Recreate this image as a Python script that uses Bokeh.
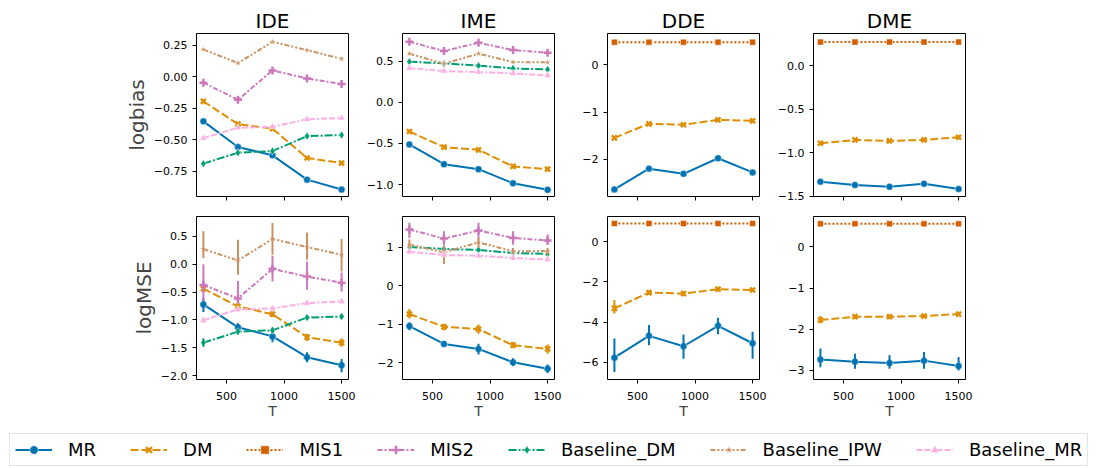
from bokeh.plotting import figure
from bokeh.layouts import column, row
from bokeh.models import (Range1d, FixedTicker, CustomJSTickFormatter, Legend,
                          LegendItem, ColumnDataSource, CustomLabelingPolicy)
from bokeh.embed import file_html
from bokeh.resources import INLINE

# ---------------- data ----------------
T = [300, 600, 900, 1200, 1500]
methods = ["MR", "DM", "MIS1", "MIS2", "Baseline_DM", "Baseline_IPW", "Baseline_MR"]
panel_titles = ["IDE", "IME", "DDE", "DME"]
row_labels = ["logbias", "logMSE"]

ide_logbias = {
    "MR": [-0.353, -0.557, -0.623, -0.816, -0.895],
    "DM": [-0.194, -0.375, -0.411, -0.644, -0.684],
    "MIS2": [-0.046, -0.181, 0.052, -0.012, -0.057],
    "Baseline_DM": [-0.689, -0.602, -0.589, -0.470, -0.462],
    "Baseline_IPW": [0.218, 0.110, 0.279, 0.213, 0.144],
    "Baseline_MR": [-0.486, -0.404, -0.396, -0.337, -0.327],
}
ime_logbias = {
    "MR": [-0.512, -0.752, -0.813, -0.984, -1.065],
    "DM": [-0.354, -0.545, -0.577, -0.780, -0.813],
    "MIS2": [0.740, 0.626, 0.728, 0.638, 0.606],
    "Baseline_DM": [0.496, 0.476, 0.448, 0.415, 0.402],
    "Baseline_IPW": [0.594, 0.472, 0.594, 0.492, 0.488],
    "Baseline_MR": [0.418, 0.382, 0.370, 0.354, 0.329],
}
dde_logbias = {
    "MR": [-2.64, -2.20, -2.31, -1.98, -2.28],
    "DM": [-1.547, -1.25, -1.27, -1.165, -1.186],
    "MIS1": [0.48, 0.48, 0.48, 0.48, 0.48],
}
dme_logbias = {
    "MR": [-1.332, -1.370, -1.390, -1.355, -1.416],
    "DM": [-0.889, -0.851, -0.862, -0.851, -0.820],
    "MIS1": [0.275, 0.275, 0.275, 0.275, 0.275],
}

ide_logmse = {
    "MR": [-0.722, -1.133, -1.296, -1.670, -1.815],
    "DM": [-0.440, -0.759, -0.898, -1.308, -1.410],
    "MIS2": [-0.373, -0.614, -0.084, -0.223, -0.332],
    "Baseline_DM": [-1.410, -1.210, -1.187, -0.958, -0.940],
    "Baseline_IPW": [0.272, 0.066, 0.453, 0.308, 0.169],
    "Baseline_MR": [-1.006, -0.813, -0.795, -0.699, -0.668],
}
ide_logmse_lo = {
    "MR": [-0.86, -1.20, -1.40, -1.76, -1.94],
    "DM": [-0.50, -0.80, -0.95, -1.38, -1.48],
    "MIS2": [-0.65, -0.71, -0.31, -0.46, -0.49],
    "Baseline_DM": [-1.48, -1.26, -1.23, -1.00, -0.98],
    "Baseline_IPW": [0.11, -0.19, 0.17, 0.08, -0.13],
    "Baseline_MR": [-1.05, -0.85, -0.83, -0.73, -0.70],
}
ide_logmse_hi = {
    "MR": [-0.61, -1.06, -1.20, -1.58, -1.70],
    "DM": [-0.38, -0.72, -0.85, -1.25, -1.33],
    "MIS2": [0.00, -0.30, 0.15, 0.05, -0.15],
    "Baseline_DM": [-1.33, -1.16, -1.14, -0.92, -0.90],
    "Baseline_IPW": [0.59, 0.44, 0.74, 0.57, 0.45],
    "Baseline_MR": [-0.96, -0.78, -0.76, -0.67, -0.64],
}
ime_logmse = {
    "MR": [-1.044, -1.506, -1.637, -1.984, -2.149],
    "DM": [-0.731, -1.062, -1.123, -1.540, -1.637],
    "MIS2": [1.462, 1.227, 1.436, 1.245, 1.175],
    "Baseline_DM": [1.010, 0.958, 0.932, 0.854, 0.828],
    "Baseline_IPW": [1.070, 0.870, 1.130, 0.896, 0.905],
    "Baseline_MR": [0.888, 0.800, 0.783, 0.723, 0.687],
}
ime_logmse_lo = {
    "MR": [-1.15, -1.58, -1.78, -2.08, -2.26],
    "DM": [-0.85, -1.15, -1.24, -1.62, -1.76],
    "MIS2": [1.245, 1.03, 1.20, 1.07, 1.07],
    "Baseline_DM": [0.96, 0.91, 0.89, 0.81, 0.79],
    "Baseline_IPW": [0.90, 0.57, 0.98, 0.81, 0.81],
    "Baseline_MR": [0.84, 0.75, 0.74, 0.68, 0.65],
}
ime_logmse_hi = {
    "MR": [-0.95, -1.43, -1.50, -1.88, -2.04],
    "DM": [-0.60, -0.98, -1.00, -1.46, -1.52],
    "MIS2": [1.64, 1.42, 1.64, 1.42, 1.33],
    "Baseline_DM": [1.05, 1.00, 0.97, 0.89, 0.86],
    "Baseline_IPW": [1.20, 1.03, 1.24, 0.98, 0.98],
    "Baseline_MR": [0.93, 0.85, 0.83, 0.77, 0.73],
}
dde_logmse = {
    "MR": [-5.78, -4.69, -5.21, -4.19, -5.06],
    "DM": [-3.32, -2.53, -2.58, -2.36, -2.40],
    "MIS1": [0.92, 0.92, 0.92, 0.92, 0.92],
}
dde_logmse_lo = {
    "MR": [-6.50, -5.16, -5.83, -4.61, -5.83],
    "DM": [-3.57, -2.65, -2.70, -2.46, -2.50],
    "MIS1": [0.90, 0.90, 0.90, 0.90, 0.90],
}
dde_logmse_hi = {
    "MR": [-4.82, -4.15, -4.62, -3.79, -4.49],
    "DM": [-2.90, -2.41, -2.46, -2.26, -2.30],
    "MIS1": [0.94, 0.94, 0.94, 0.94, 0.94],
}
dme_logmse = {
    "MR": [-2.740, -2.795, -2.830, -2.770, -2.900],
    "DM": [-1.780, -1.700, -1.700, -1.684, -1.635],
    "MIS1": [0.564, 0.564, 0.564, 0.564, 0.564],
}
dme_logmse_lo = {
    "MR": [-2.93, -2.97, -2.97, -2.97, -3.01],
    "DM": [-1.86, -1.75, -1.75, -1.73, -1.68],
    "MIS1": [0.55, 0.55, 0.55, 0.55, 0.55],
}
dme_logmse_hi = {
    "MR": [-2.475, -2.60, -2.64, -2.56, -2.68],
    "DM": [-1.68, -1.65, -1.65, -1.64, -1.59],
    "MIS1": [0.58, 0.58, 0.58, 0.58, 0.58],
}

# y ticks per panel
yticks_bias = [[0.25, 0.0, -0.25, -0.5, -0.75], [0.5, 0.0, -0.5, -1.0], [0, -1, -2], [0.0, -0.5, -1.0, -1.5]]
ydec_bias = [2, 1, 0, 1]
yticks_mse = [[0.5, 0.0, -0.5, -1.0, -1.5, -2.0], [1, 0, -1, -2], [0, -2, -4, -6], [0, -1, -2, -3]]
ydec_mse = [1, 0, 0, 0]
xticks = [500, 1000, 1500]

# ---------------- styles ----------------
colors = {"MR": "#0173b2", "DM": "#de8f05", "MIS1": "#d55e00", "MIS2": "#cc78bc",
          "Baseline_DM": "#029e73", "Baseline_IPW": "#ca9161", "Baseline_MR": "#fbafe4"}
dashes = {"MR": "solid", "DM": "8 3", "MIS1": "2 2", "MIS2": "5 2 2 2",
          "Baseline_DM": "8 2 2 2", "Baseline_IPW": "5 2 2 2 2 2", "Baseline_MR": "6 2 6 2 2 2"}
markers = {"MR": ("circle", 7), "DM": ("x", 7), "MIS1": ("square", 6), "MIS2": ("cross", 8),
           "Baseline_DM": ("diamond", 8), "Baseline_IPW": ("star", 7), "Baseline_MR": ("triangle", 7)}
FONT = "DejaVu Sans"
FW, FH = 152, 163


def add_marker(p, m, src):
    mk, sz = markers[m]
    if mk in ("x", "cross"):
        return p.scatter("x", "y", source=src, marker=mk, size=sz, line_color=colors[m], line_width=2.5)
    return p.scatter("x", "y", source=src, marker=mk, size=sz, fill_color=colors[m],
                     line_color="white", line_width=0.5)


def make_panel(data, lo, hi, yr, yt, dec, title, ylabel, bottom, ml, mr, mt, mb):
    kw = dict(frame_width=FW, frame_height=FH, x_range=Range1d(240, 1560),
              y_range=Range1d(*yr), output_backend="svg", toolbar_location=None,
              min_border_left=ml, min_border_right=mr, min_border_top=mt, min_border_bottom=mb)
    if title is None:
        p = figure(title=None, **kw)
    else:
        p = figure(title=title, **kw)
        p.title.align = "center"
        p.title.text_font = FONT
        p.title.text_font_size = "20px"
        p.title.text_font_style = "normal"
        p.title.text_color = "black"
        p.title.standoff = 2
    p.grid.visible = False
    p.outline_line_color = "black"
    p.outline_line_alpha = 1
    p.outline_line_width = 1
    p.background_fill_color = "white"
    p.border_fill_color = "white"
    for ax in (p.xaxis[0], p.yaxis[0]):
        ax.axis_line_color = None
        ax.major_tick_out = 4
        ax.major_tick_in = 0
        ax.minor_tick_out = 0
        ax.minor_tick_in = 0
        ax.major_tick_line_color = "black"
        ax.major_label_text_font = FONT
        ax.major_label_text_font_size = "11px"
        ax.major_label_text_color = "black"
    p.xaxis.ticker = FixedTicker(ticks=xticks)
    p.yaxis.ticker = FixedTicker(ticks=yt)
    p.yaxis.major_label_standoff = 5
    p.yaxis.formatter = CustomJSTickFormatter(
        args=dict(d=dec),
        code="const s = Math.abs(tick).toFixed(d); return (tick < -1e-9 ? '\u2212' : '') + s;")
    if bottom:
        p.xaxis.major_label_standoff = 8
        p.xaxis.axis_label = "T"
        p.xaxis.axis_label_text_font = FONT
        p.xaxis.axis_label_text_font_size = "14px"
        p.xaxis.axis_label_text_font_style = "normal"
        p.xaxis.axis_label_standoff = 0
    else:
        # shared x axis: tick marks only, no labels
        p.xaxis.major_label_policy = CustomLabelingPolicy(
            code="for (const i of indices) indices.unset(i); return indices;")
        p.xaxis.major_label_standoff = 0
    if ylabel:
        p.yaxis.axis_label = ylabel
        p.yaxis.axis_label_text_font = FONT
        p.yaxis.axis_label_text_font_size = "20px"
        p.yaxis.axis_label_text_font_style = "normal"
        p.yaxis.axis_label_standoff = 2
    for m in methods:
        if m not in data:
            continue
        src = ColumnDataSource(dict(x=T, y=data[m]))
        p.line("x", "y", source=src, line_color=colors[m], line_width=2, line_dash=dashes[m])
        add_marker(p, m, src)
        if lo is not None:
            p.segment(x0=T, y0=lo[m], x1=T, y1=hi[m], line_color=colors[m], line_width=2)
    return p


borders_lr = [(196, 8), (46, 8), (45, 8), (46, 10)]
row1_data = [ide_logbias, ime_logbias, dde_logbias, dme_logbias]
row1_ranges = [(-0.95, 0.345), (-1.146, 0.84), (-2.79, 0.663), (-1.502, 0.374)]
row2_data = [(ide_logmse, ide_logmse_lo, ide_logmse_hi), (ime_logmse, ime_logmse_lo, ime_logmse_hi),
             (dde_logmse, dde_logmse_lo, dde_logmse_hi), (dme_logmse, dme_logmse_lo, dme_logmse_hi)]
row2_ranges = [(-2.07, 0.856), (-2.43, 1.80), (-6.87, 1.27), (-3.23, 0.743)]

r1 = []
r2 = []
for i in range(4):
    ml, mr = borders_lr[i]
    r1.append(make_panel(row1_data[i], None, None, row1_ranges[i], yticks_bias[i], ydec_bias[i],
                         panel_titles[i], row_labels[0] if i == 0 else None, False, ml, mr, 33, 8))
    d, lo, hi = row2_data[i]
    r2.append(make_panel(d, lo, hi, row2_ranges[i], yticks_mse[i], ydec_mse[i],
                         None, row_labels[1] if i == 0 else None, True, ml, mr, 5, 48))

# ---------------- legend ----------------
lg = figure(frame_width=1096, frame_height=40, x_range=Range1d(0, 1), y_range=Range1d(0, 1),
            x_axis_type=None, y_axis_type=None, toolbar_location=None, output_backend="svg",
            min_border=0, title=None)
lg.outline_line_color = None
lg.grid.visible = False
items = []
for m in methods:
    src = ColumnDataSource(dict(x=[-10], y=[-10]))
    rl = lg.line("x", "y", source=src, line_color=colors[m], line_width=2, line_dash=dashes[m])
    rm = add_marker(lg, m, src)
    items.append(LegendItem(label=m, renderers=[rl, rm]))
leg = Legend(items=items, orientation="horizontal", location=(9, 1), glyph_width=37, glyph_height=21,
             label_standoff=16, spacing=34, padding=5, margin=0,
             label_text_font=FONT, label_text_font_size="18px", label_text_color="black",
             border_line_color="#cccccc", border_line_width=1, background_fill_color="white",
             background_fill_alpha=1)
lg.add_layout(leg, "center")

layout = column(row(*r1), row(*r2), lg)
open("out.html", "w").write(file_html(layout, INLINE))
